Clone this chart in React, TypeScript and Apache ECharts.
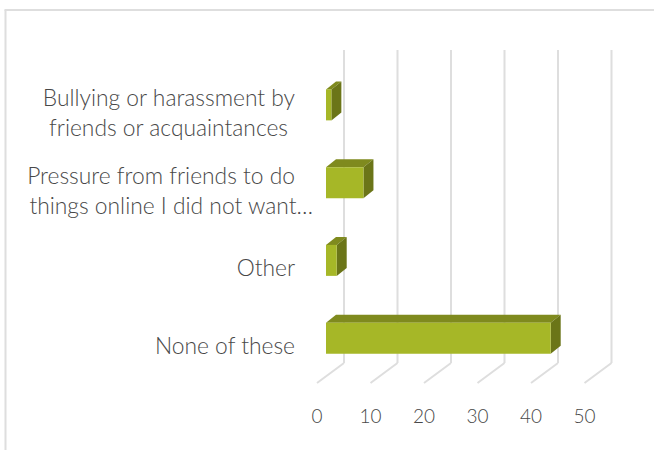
import React, { useEffect, useRef } from "react";
import * as echarts from "echarts";

const categories = [
  "Bullying or harassment by\nfriends or acquaintances",
  "Pressure from friends to do\nthings online I did not want…",
  "Other",
  "None of these",
];
const values = [1, 7, 2, 42];
const ticks = [0, 10, 20, 30, 40, 50];

const FRONT = "#A6B727";
const TOP = "#7F8A1E";
const SIDE = "#6B7518";
const GRID = "#DEDEDE";
const TEXT = "#484848";
const FONT = "Lato";

const labelBase = { color: TEXT, fontFamily: FONT, fontSize: 22.8, fontWeight: 300, lineHeight: 30, align: "right" };
const styleForLine = (line: string) => {
  if (line.startsWith("things")) return "plain";
  if (line.startsWith("friends")) return "inset";
  return "base";
};

export default function App() {
  const ref = useRef<HTMLDivElement>(null);
  useEffect(() => {
    document.body.style.margin = "0";
    const chart = echarts.init(ref.current!, undefined, { renderer: "svg" });
    chart.setOption({
      animation: false,
      backgroundColor: "#fff",
      grid: { left: 317, top: 73, width: 267.5, height: 311, containLabel: false },
      xAxis: {
        type: "value",
        min: 0,
        max: 50,
        interval: 10,
        splitLine: { show: false },
        axisLine: { show: false },
        axisTick: { show: false },
        axisLabel: { color: TEXT, fontFamily: FONT, fontSize: 19, fontWeight: 300, margin: 22 },
      },
      yAxis: {
        type: "category",
        inverse: true,
        data: categories,
        axisLine: { show: false },
        axisTick: { show: false },
        axisLabel: {
          ...labelBase,
          margin: 4,
          formatter: (value: string) =>
            value.split("\n").map((line) => `{${styleForLine(line)}|${line}}`).join("\n"),
          rich: {
            plain: { ...labelBase },
            base: { ...labelBase, padding: [0, 18, 0, 0] },
            inset: { ...labelBase, padding: [0, 25, 0, 0] },
          },
        },
      },
      graphic: [
        { type: "line", shape: { x1: 4.5, y1: 10, x2: 654, y2: 10 }, style: { stroke: GRID, lineWidth: 2 } },
        { type: "line", shape: { x1: 5.5, y1: 10, x2: 5.5, y2: 450 }, style: { stroke: GRID, lineWidth: 2 } },
      ],
      series: [
        {
          type: "custom",
          silent: true,
          clip: false,
          z: 1,
          encode: { x: 0 },
          data: ticks.map((t) => [t]),
          renderItem: (_p: any, api: any) => {
            const [x] = api.coord([api.value(0), categories.length - 1]);
            const bottom = 383;
            const lineStyle = { stroke: GRID, lineWidth: 2, fill: "none" };
            return {
              type: "group",
              children: [
                { type: "line", shape: { x1: x, y1: bottom, x2: x + 27, y2: bottom - 20 }, style: lineStyle },
                { type: "line", shape: { x1: x + 27, y1: bottom - 20, x2: x + 27, y2: 50 }, style: lineStyle },
              ],
            };
          },
        },
        {
          type: "custom",
          silent: true,
          clip: false,
          z: 2,
          encode: { x: 0, y: 1 },
          data: values.map((v, i) => [v, i]),
          renderItem: (_p: any, api: any) => {
            const [xEnd, yMid] = api.coord([api.value(0), api.value(1)]);
            const [xZero] = api.coord([0, api.value(1)]);
            const x0 = xZero + 9;
            const x1 = xEnd + 9;
            const y0 = yMid - 22.5;
            const y1 = yMid + 8.5;
            const dx = 10;
            const dy = 8;
            return {
              type: "group",
              children: [
                { type: "polygon", shape: { points: [[x0, y0], [x1, y0], [x1 + dx, y0 - dy], [x0 + dx, y0 - dy]] }, style: { fill: TOP } },
                { type: "polygon", shape: { points: [[x1, y0], [x1 + dx, y0 - dy], [x1 + dx, y1 - dy], [x1, y1]] }, style: { fill: SIDE } },
                { type: "rect", shape: { x: x0, y: y0, width: x1 - x0, height: y1 - y0 }, style: { fill: FRONT } },
              ],
            };
          },
        },
      ],
    });
    return () => chart.dispose();
  }, []);
  return <div ref={ref} style={{ width: 654, height: 450 }} />;
}
